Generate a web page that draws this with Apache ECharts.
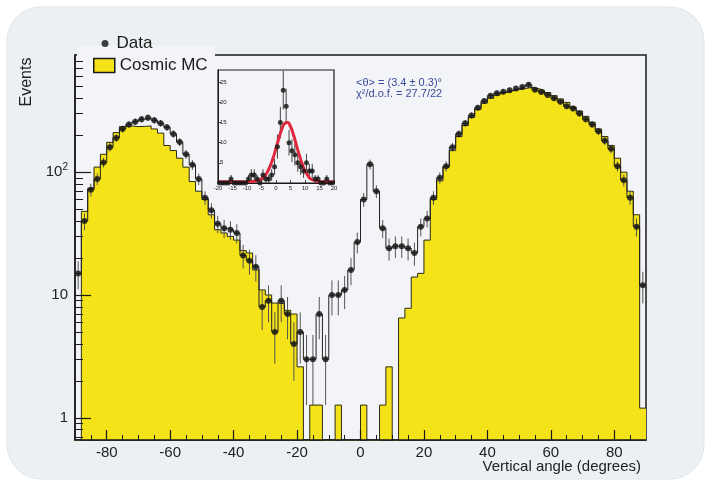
<!DOCTYPE html>
<html><head><meta charset="utf-8">
<script src="https://cdn.jsdelivr.net/npm/echarts@6/dist/echarts.min.js"></script>
<style>html,body{margin:0;padding:0;background:#fff}#c{width:710px;height:481px}</style>
</head><body><div id="c"></div>
<script>
// ---- data ----
const binCenters = [-89,-87,-85,-83,-81,-79,-77,-75,-73,-71,-69,-67,-65,-63,-61,-59,-57,-55,-53,-51,
  -49,-47,-45,-43,-41,-39,-37,-35,-33,-31,-29,-27,-25,-23,-21,-19,-17,-15,-13,-11,
  -9,-7,-5,-3,-1,1,3,5,7,9,11,13,15,17,19,21,23,25,27,29,
  31,33,35,37,39,41,43,45,47,49,51,53,55,57,59,61,63,65,67,69,
  71,73,75,77,79,81,83,85,87,89];
const dataCounts = [15,40,72,88,120,160,190,225,245,258,270,278,265,250,232,205,176,140,115,88,
  62,49,38,35,34,32,21,19,17,8,9,5,9,7,4,5,3,3,7,3,
  10,10,11,16,27,60,116,70,35,24,25,25,24,22,36,42,62,90,112,160,
  205,250,290,335,380,420,440,452,465,480,495,515,470,450,425,400,375,345,330,300,
  270,245,215,180,155,112,86,62,36,12];
const mcCounts = [0,48,74,110,140,175,210,235,238,235,236,238,225,208,165,150,130,110,84,70,
  60,45,34,32,30,28,23,22,16,11,10,8.6,8.5,7.5,7,2.6,0,1.27,1.27,0,
  0,1.27,0,0,0,1.27,0,0,1.27,2.6,0,6.5,7.8,14,15,28,60,85,110,150,
  195,240,280,325,365,400,425,445,460,470,480,490,480,465,445,420,395,370,340,315,
  285,255,225,195,165,130,100,70,45,1.2];
const xMajorTicks = [-80,-60,-40,-20,0,20,40,60,80];
const xMinorTicks = [-85,-75,-70,-65,-55,-50,-45,-35,-30,-25,-15,-10,-5,5,10,15,25,30,35,45,50,55,65,70,75,85];
const yMajorTicks = [1,10,100];
const yMinorTicks = [0.7,0.8,0.9,2,3,4,5,6,7,8,9,20,30,40,50,60,70,80,90,200,300,400,500,600,700,800];

const insetX = [-19.5,-18.5,-17.5,-16.5,-15.5,-14.5,-13.5,-12.5,-11.5,-10.5,-9.5,-8.5,-7.5,-6.5,-5.5,-4.5,-3.5,-2.5,-1.5,-0.5,
  0.5,1.5,2.5,3.5,4.5,5.5,6.5,7.5,8.5,9.5,10.5,11.5,12.5,13.5,14.5,15.5,16.5,17.5,18.5,19.5];
const insetCounts = [0,0,0,0,1,0,0,0,0,0,1,2,2,1,0,2,1,1,2,4,
  9,15,23,19,10,8,7,5,4,3,5,3,3,1,1,0,0,1,0,0];
const fitX = [-20,-12,-8,-6,-4,-3,-2,-1,0,1,2,3,4,5,6,7,8,9,10,11,12,14,16,20];
const fitY = [0.3,0.3,0.4,0.7,1.6,2.7,4.2,6.2,8.6,11.1,13.3,14.8,15.0,14.0,12.0,9.5,7.0,4.8,3.0,1.8,1.0,0.5,0.3,0.3];
const insetXTicks = [-20,-15,-10,-5,0,5,10,15,20];

// ---- styling ----
const FONT = "'Liberation Sans', Arial, Helvetica, sans-serif";
const YELLOW = '#f5e31a';
const PLOT_BG = '#f2f4f7';
const CARD_BG = '#ecf0f3';
const INK = '#1a1a1a';
const BIN_W = 2;
const FLOOR = 0.3; // drawing level for empty bins (below the log axis minimum)

function stepPairs(vals) {
  const out = [];
  binCenters.forEach((c, i) => {
    const v = vals[i] > 0 ? vals[i] : FLOOR;
    out.push([c - BIN_W / 2, v], [c + BIN_W / 2, v]);
  });
  return out;
}
const dataPoints = binCenters.map((c, i) => [c, dataCounts[i]]);
const insetPoints = insetX.map((x, i) => [x, insetCounts[i]]);
const fitPoints = fitX.map((x, i) => [x, fitY[i]]);

function errRender(lowFloor, color) {
  return function (params, api) {
    const x = api.value(0), v = api.value(1);
    if (!(v > 0)) return null;
    const e = Math.sqrt(v);
    const p1 = api.coord([x, v + e]);
    const p2 = api.coord([x, Math.max(v - e, lowFloor)]);
    return {type: 'line', shape: {x1: p1[0], y1: p1[1], x2: p2[0], y2: p2[1]},
      style: {stroke: color, lineWidth: 1}};
  };
}

const chart = echarts.init(document.getElementById('c'), null, {renderer: 'canvas'});
chart.setOption({
  animation: false,
  backgroundColor: '#ffffff',
  textStyle: {fontFamily: FONT},
  grid: [
    {left: 75, top: 55, width: 571, height: 385, show: true, borderColor: INK, borderWidth: 1.5, backgroundColor: PLOT_BG},
    {left: 218, top: 70, width: 116, height: 113, show: true, borderColor: INK, borderWidth: 1.2, backgroundColor: PLOT_BG, z: 6}
  ],
  legend: [
    {data: [{name: 'Data', icon: 'circle'}], left: 101.5, top: 35, padding: 0, itemWidth: 7, itemHeight: 7, z: 8,
      textStyle: {fontSize: 17, color: INK, fontFamily: FONT, padding: [0, 0, 0, 3]}, selectedMode: false},
    {data: [{name: 'Cosmic MC', icon: 'rect', itemStyle: {color: YELLOW, borderColor: INK, borderWidth: 1.5}}],
      left: 93, top: 57, padding: 0, itemWidth: 21, itemHeight: 14, z: 8,
      textStyle: {fontSize: 17, color: INK, fontFamily: FONT}, selectedMode: false}
  ],
  xAxis: [
    {gridIndex: 0, type: 'value', min: -90, max: 90, position: 'bottom', z: 10,
      axisLine: {show: true, onZero: false, lineStyle: {color: INK, width: 1.5}},
      axisTick: {show: true, inside: true, length: 10, customValues: xMajorTicks, lineStyle: {color: INK, width: 1.2}},
      axisLabel: {customValues: xMajorTicks, color: '#222', fontSize: 15, margin: 5, fontFamily: FONT},
      splitLine: {show: false}},
    {gridIndex: 0, type: 'value', min: -90, max: 90, position: 'bottom', z: 10,
      axisLine: {show: false, onZero: false},
      axisTick: {show: true, inside: true, length: 5, customValues: xMinorTicks, lineStyle: {color: INK, width: 1}},
      axisLabel: {show: false}, splitLine: {show: false}},
    {gridIndex: 1, type: 'value', min: -20, max: 20, position: 'bottom', z: 10,
      axisLine: {show: true, onZero: false, lineStyle: {color: INK, width: 1.2}},
      axisTick: {show: true, inside: true, length: 3, customValues: insetXTicks, lineStyle: {color: INK, width: 0.8}},
      axisLabel: {customValues: insetXTicks, color: '#222', fontSize: 6, margin: 2, fontFamily: FONT},
      splitLine: {show: false}}
  ],
  yAxis: [
    {gridIndex: 0, type: 'log', logBase: 10, min: 0.66, max: 900, position: 'left', z: 10,
      axisLine: {show: true, onZero: false, lineStyle: {color: INK, width: 1.5}},
      axisTick: {show: true, inside: true, length: 16, customValues: yMajorTicks, lineStyle: {color: INK, width: 1.2}},
      axisLabel: {customValues: yMajorTicks, color: '#222', fontSize: 15, margin: 7, fontFamily: FONT,
        formatter: function (v) { const r = Math.round(v); return r === 100 ? '{b|10}{s|2}' : String(r); },
        rich: {b: {fontSize: 15, color: '#222', fontFamily: FONT}, s: {fontSize: 10, color: '#222', fontFamily: FONT, padding: [0, 0, 9, 0]}}},
      splitLine: {show: false}},
    {gridIndex: 0, type: 'log', logBase: 10, min: 0.66, max: 900, position: 'left', z: 10,
      axisLine: {show: false, onZero: false},
      axisTick: {show: true, inside: true, length: 8, customValues: yMinorTicks, lineStyle: {color: INK, width: 1}},
      axisLabel: {show: false}, splitLine: {show: false}},
    {gridIndex: 1, type: 'value', min: 0, max: 28, interval: 5, position: 'left', z: 10,
      axisLine: {show: true, onZero: false, lineStyle: {color: INK, width: 1}},
      axisTick: {show: true, inside: true, length: 3, lineStyle: {color: INK, width: 0.8}},
      axisLabel: {inside: true, color: '#222', fontSize: 6, margin: 2, showMaxLabel: false, fontFamily: FONT},
      splitLine: {show: false}}
  ],
  series: [
    {name: 'Cosmic MC', type: 'line', xAxisIndex: 0, yAxisIndex: 0, data: stepPairs(mcCounts),
      symbol: 'none', showSymbol: false, clip: true, z: 2,
      lineStyle: {color: '#2d2a14', width: 1}, itemStyle: {color: YELLOW},
      areaStyle: {color: YELLOW, opacity: 1, origin: 'start'}},
    {name: 'Data step', type: 'line', xAxisIndex: 0, yAxisIndex: 0, data: stepPairs(dataCounts),
      symbol: 'none', showSymbol: false, clip: true, z: 3,
      lineStyle: {color: '#222', width: 1}},
    {name: 'Data errors', type: 'custom', xAxisIndex: 0, yAxisIndex: 0, data: dataPoints, clip: true, z: 3,
      renderItem: errRender(FLOOR, '#555')},
    {name: 'Data', type: 'scatter', xAxisIndex: 0, yAxisIndex: 0, data: dataPoints, symbol: 'circle',
      symbolSize: 6, itemStyle: {color: '#111'}, clip: true, z: 4},
    {name: 'Fit', type: 'line', xAxisIndex: 2, yAxisIndex: 2, data: fitPoints, smooth: true,
      symbol: 'none', lineStyle: {color: '#e0283c', width: 3}, z: 7},
    {name: 'Inset errors', type: 'custom', xAxisIndex: 2, yAxisIndex: 2, data: insetPoints, clip: true, z: 7,
      renderItem: errRender(0, '#444')},
    {name: 'Inset data', type: 'scatter', xAxisIndex: 2, yAxisIndex: 2, data: insetPoints, symbol: 'circle',
      symbolSize: 5, itemStyle: {color: '#111'}, z: 8}
  ],
  graphic: [
    {type: 'rect', z: -1, silent: true, shape: {x: 7, y: 7, width: 697, height: 472, r: 34},
      style: {fill: CARD_BG, stroke: '#e2e6ea', lineWidth: 1}},
    {type: 'rect', z: 3, silent: true, shape: {x: 77, y: 46, width: 138, height: 14}, style: {fill: PLOT_BG}},
    {type: 'text', x: 27, y: 82, rotation: Math.PI / 2, silent: true,
      style: {text: 'Events', font: '16px ' + FONT, fill: '#222', textAlign: 'center', textVerticalAlign: 'middle', align: 'center', verticalAlign: 'middle'}},
    {type: 'text', x: 641, y: 467, silent: true,
      style: {text: 'Vertical angle (degrees)', font: '15px ' + FONT, fill: '#222', textAlign: 'right', textVerticalAlign: 'middle', align: 'right', verticalAlign: 'middle'}},
    {type: 'text', x: 356, y: 83, silent: true,
      style: {text: '<θ> = (3.4 ± 0.3)°', font: '11px ' + FONT, fill: '#3b4a9c', textAlign: 'left', textVerticalAlign: 'middle', align: 'left', verticalAlign: 'middle'}},
    {type: 'text', x: 356, y: 94, silent: true,
      style: {text: 'χ²/d.o.f. = 27.7/22', font: '11px ' + FONT, fill: '#3b4a9c', textAlign: 'left', textVerticalAlign: 'middle', align: 'left', verticalAlign: 'middle'}}
  ]
});
</script></body></html>
